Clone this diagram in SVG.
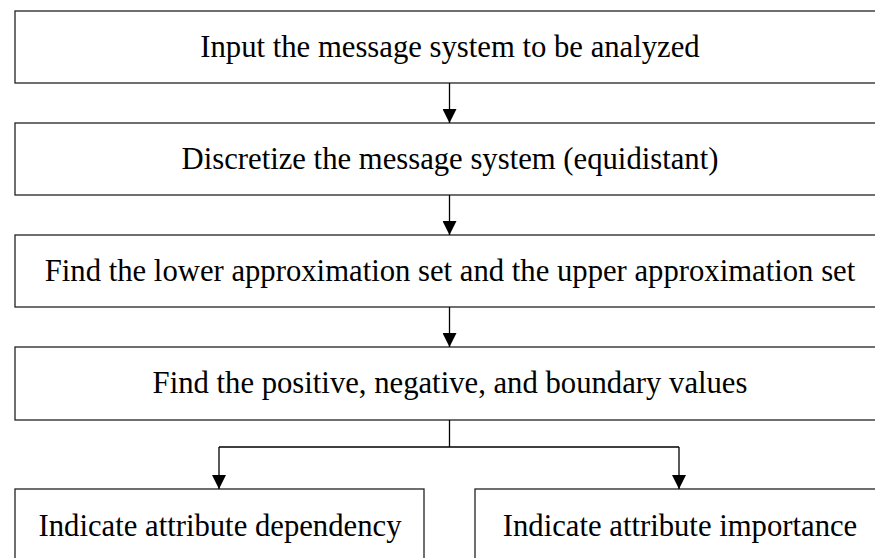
<svg xmlns="http://www.w3.org/2000/svg" width="875" height="558" viewBox="0 0 875 558">
<style>
.box{fill:#fff;stroke:#222;stroke-width:1.3}
.t{font-family:"Liberation Serif","Times New Roman",serif;font-size:30.7px;fill:#000;text-anchor:middle}
.c{fill:none;stroke:#000;stroke-width:1.3}
</style>
<defs>
<marker id="ah" viewBox="0 0 14 14" refX="14" refY="7" markerWidth="14" markerHeight="14" markerUnits="userSpaceOnUse" orient="auto">
<path d="M0,0 L14,7 L0,14 Z" fill="#000"/>
</marker>
</defs>
<rect width="875" height="558" fill="#fff"/>
<g id="n1"><rect class="box" x="15" y="11" width="870" height="72"/><text class="t" x="450" y="57">Input the message system to be analyzed</text></g>
<g id="n2"><rect class="box" x="15" y="123" width="870" height="72"/><text class="t" x="450" y="169">Discretize the message system (equidistant)</text></g>
<g id="n3"><rect class="box" x="15" y="235" width="870" height="72"/><text class="t" x="450" y="281">Find the lower approximation set and the upper approximation set</text></g>
<g id="n4"><rect class="box" x="15" y="347" width="870" height="73"/><text class="t" x="450" y="393">Find the positive, negative, and boundary values</text></g>
<g id="n5"><rect class="box" x="15" y="489" width="409" height="80"/><text class="t" x="220" y="536">Indicate attribute dependency</text></g>
<g id="n6"><rect class="box" x="475" y="489" width="409" height="80"/><text class="t" x="680" y="536">Indicate attribute importance</text></g>
<g id="connectors">
<path class="c" d="M449.5,83 V123" marker-end="url(#ah)"/>
<path class="c" d="M449.5,195 V235" marker-end="url(#ah)"/>
<path class="c" d="M449.5,307 V347" marker-end="url(#ah)"/>
<path class="c" d="M449.5,420 V447 M219,447 H679"/>
<path class="c" d="M219,447 V489" marker-end="url(#ah)"/>
<path class="c" d="M679,447 V489" marker-end="url(#ah)"/>
</g>
</svg>
